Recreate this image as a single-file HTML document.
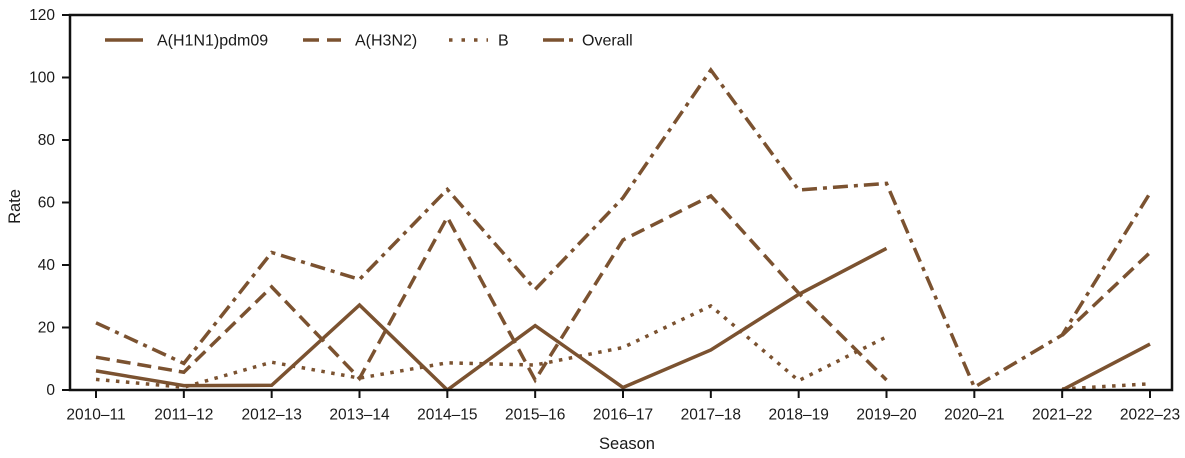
<!DOCTYPE html>
<html>
<head>
<meta charset="utf-8">
<style>
  html, body { margin:0; padding:0; background:#ffffff; }
  svg { display:block; }
  text { font-family: "Liberation Sans", "DejaVu Sans", sans-serif; fill:#1a1a1a; }
</style>
</head>
<body>
<svg width="1185" height="458" viewBox="0 0 1185 458" xmlns="http://www.w3.org/2000/svg">
  <rect x="0" y="0" width="1185" height="458" fill="#ffffff"/>

  <!-- series -->
  <g fill="none" stroke="#7b5230" stroke-width="3.5" stroke-linejoin="miter" stroke-linecap="butt">
    <!-- A(H1N1)pdm09 solid -->
    <polyline points="96,370.9 183.83,385.6 271.67,385.3 359.5,305 447.33,390 535.17,325.6 623,387.5 710.83,350 798.67,294.4 886.5,248.4"/>
    <polyline points="1062.17,390 1150,344.1"/>
    <!-- A(H3N2) dashed -->
    <polyline stroke-dasharray="14 7" points="96,357.2 183.83,372.2 271.67,286.9 359.5,378.4 447.33,217.2 535.17,380 623,240 710.83,195.9 798.67,293.1 886.5,380"/>
    <polyline stroke-dasharray="14 7" points="1062.17,335.3 1150,252.5"/>
    <!-- B dotted -->
    <polyline stroke-dasharray="3.5 6.5" points="96,379.4 183.83,387.2 271.67,362.2 359.5,378.1 447.33,362.8 535.17,365 623,347.5 710.83,305.9 798.67,380.6 886.5,336.9"/>
    <polyline stroke-dasharray="3.5 6.5" points="1062.17,389 1150,383.8"/>
    <!-- Overall dash-dot -->
    <polyline stroke-dasharray="15 6 4 6" points="96,322.8 183.83,363.4 271.67,252.5 359.5,279.4 447.33,189.4 535.17,289.4 623,197.8 710.83,70 798.67,190 886.5,183.4 974.33,387.2 1062.17,335 1150,193.1"/>
  </g>

  <!-- axes frame -->
  <rect x="70" y="15" width="1102" height="375" fill="none" stroke="#111" stroke-width="2.5"/>

  <!-- y ticks -->
  <g stroke="#111" stroke-width="2">
    <line x1="62" y1="390" x2="70" y2="390"/>
    <line x1="62" y1="327.5" x2="70" y2="327.5"/>
    <line x1="62" y1="265" x2="70" y2="265"/>
    <line x1="62" y1="202.5" x2="70" y2="202.5"/>
    <line x1="62" y1="140" x2="70" y2="140"/>
    <line x1="62" y1="77.5" x2="70" y2="77.5"/>
    <line x1="62" y1="15" x2="70" y2="15"/>
  </g>
  <g font-size="15.5" text-anchor="end">
    <text x="55" y="395">0</text>
    <text x="55" y="332.5">20</text>
    <text x="55" y="270">40</text>
    <text x="55" y="207.5">60</text>
    <text x="55" y="145">80</text>
    <text x="55" y="82.5">100</text>
    <text x="55" y="20">120</text>
  </g>

  <!-- x ticks -->
  <g stroke="#111" stroke-width="2">
    <line x1="96" y1="390" x2="96" y2="398"/>
    <line x1="183.83" y1="390" x2="183.83" y2="398"/>
    <line x1="271.67" y1="390" x2="271.67" y2="398"/>
    <line x1="359.5" y1="390" x2="359.5" y2="398"/>
    <line x1="447.33" y1="390" x2="447.33" y2="398"/>
    <line x1="535.17" y1="390" x2="535.17" y2="398"/>
    <line x1="623" y1="390" x2="623" y2="398"/>
    <line x1="710.83" y1="390" x2="710.83" y2="398"/>
    <line x1="798.67" y1="390" x2="798.67" y2="398"/>
    <line x1="886.5" y1="390" x2="886.5" y2="398"/>
    <line x1="974.33" y1="390" x2="974.33" y2="398"/>
    <line x1="1062.17" y1="390" x2="1062.17" y2="398"/>
    <line x1="1150" y1="390" x2="1150" y2="398"/>
  </g>
  <g font-size="15.5" text-anchor="middle">
    <text x="96" y="419.5">2010–11</text>
    <text x="183.83" y="419.5">2011–12</text>
    <text x="271.67" y="419.5">2012–13</text>
    <text x="359.5" y="419.5">2013–14</text>
    <text x="447.33" y="419.5">2014–15</text>
    <text x="535.17" y="419.5">2015–16</text>
    <text x="623" y="419.5">2016–17</text>
    <text x="710.83" y="419.5">2017–18</text>
    <text x="798.67" y="419.5">2018–19</text>
    <text x="886.5" y="419.5">2019–20</text>
    <text x="974.33" y="419.5">2020–21</text>
    <text x="1062.17" y="419.5">2021–22</text>
    <text x="1150" y="419.5">2022–23</text>
  </g>

  <!-- axis titles -->
  <text x="627" y="449" font-size="16.5" text-anchor="middle">Season</text>
  <text transform="translate(20,206.5) rotate(-90)" font-size="16.5" text-anchor="middle">Rate</text>

  <!-- legend -->
  <g fill="none" stroke="#7b5230" stroke-width="3.5">
    <line x1="105" y1="40" x2="143" y2="40"/>
    <line x1="303" y1="40" x2="341" y2="40" stroke-dasharray="16 8"/>
    <line x1="449" y1="40" x2="488" y2="40" stroke-dasharray="3.5 9"/>
    <line x1="543" y1="40" x2="573" y2="40" stroke-dasharray="21 5 4 10"/>
  </g>
  <g font-size="16">
    <text x="157" y="45.5">A(H1N1)pdm09</text>
    <text x="355" y="45.5">A(H3N2)</text>
    <text x="498" y="45.5">B</text>
    <text x="582" y="45.5">Overall</text>
  </g>
</svg>
</body>
</html>
